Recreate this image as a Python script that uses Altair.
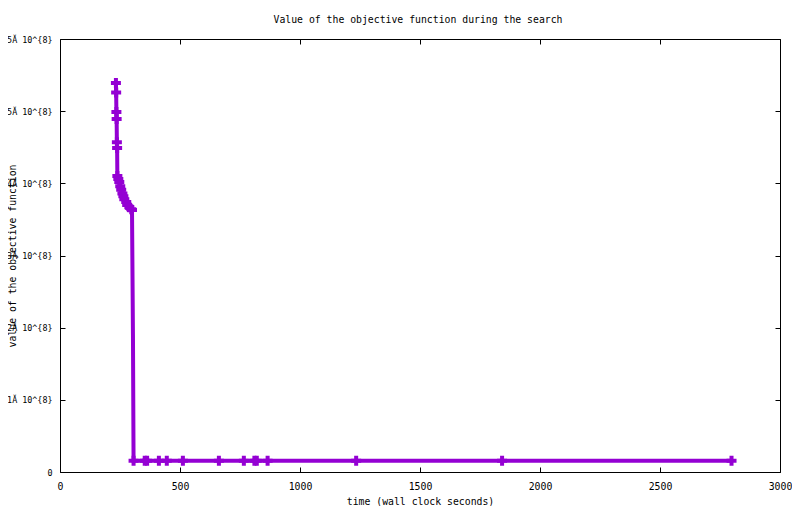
import json
import altair as alt
import pandas as pd

# time (wall clock seconds)
times = [233, 234, 235, 236, 237, 238,
         239, 243, 247, 251, 255, 260, 264, 268, 276, 280, 289, 297, 300,
         304,
         306.5, 353, 363, 412, 445, 512, 662, 766, 810, 820, 865, 1234, 1842, 2798]
# value of the objective function (units of 1e8)
values_e8 = [5.39, 5.26, 4.99, 4.89, 4.57, 4.49,
             4.10, 4.06, 4.02, 3.96, 3.91, 3.86, 3.82, 3.78, 3.74, 3.70, 3.67, 3.64, 3.63,
             1.90,
             0.155, 0.155, 0.155, 0.155, 0.155, 0.155, 0.155, 0.155, 0.155, 0.155, 0.155,
             0.155, 0.155, 0.155]
# whether the sample is drawn with a point marker
marked = [True] * 19 + [False] + [True] * 14

x_ticks = [0, 500, 1000, 1500, 2000, 2500, 3000]
y_ticks = [0, 1e8, 2e8, 3e8, 4e8, 5e8, 6e8]
y_tick_labels = ["0", "1Ă 10^{8}", "2Ă 10^{8}", "3Ă 10^{8}", "4Ă 10^{8}", "5Ă 10^{8}", "5Ă 10^{8}"]

df = pd.DataFrame({
    "t": times,
    "v": [v * 1e8 for v in values_e8],
    "marked": marked,
    "i": list(range(len(times))),
})

FONT = "DejaVu Sans Mono"
FS = 9.8
COLOR = "#9400D3"
W, H = 720, 433

xscale = alt.Scale(domain=[0, 3000], nice=False, zero=False)
yscale = alt.Scale(domain=[0, 6e8], nice=False, zero=False)

label_expr = json.dumps(y_tick_labels, ensure_ascii=False) + "[round(datum.value / 1e8)]"

line = alt.Chart(df).mark_line(color=COLOR, strokeWidth=4, strokeJoin="miter").encode(
    x=alt.X("t:Q", scale=xscale,
            axis=alt.Axis(values=x_ticks, format="d", title="time (wall clock seconds)",
                          offset=-5, tickSize=5, domain=False, grid=False, labelPadding=9,
                          labelFlush=False, labelOverlap=False,
                          titleY=34.5, titleBaseline="middle")),
    y=alt.Y("v:Q", scale=yscale,
            axis=alt.Axis(values=y_ticks, labelExpr=label_expr,
                          title="value of the objective function", offset=-5,
                          tickSize=5, domain=False, grid=False, labelPadding=8,
                          labelFontSize=8.4,
                          labelOverlap=False, labelBound=False,
                          titleX=-53, titleY=H / 2, titleBaseline="middle")),
    order="i:Q",
)

pts = alt.Chart(df).transform_filter("datum.marked").mark_point(
    shape="cross", filled=True, size=100, color=COLOR, opacity=1
).encode(
    x=alt.X("t:Q", scale=xscale,
            axis=alt.Axis(orient="top", values=x_ticks, labels=False, title=None,
                          offset=-5, tickSize=5, domain=False, grid=False)),
    y=alt.Y("v:Q", scale=yscale,
            axis=alt.Axis(orient="right", values=y_ticks, labels=False, title=None,
                          offset=-5, tickSize=5, domain=False, grid=False)),
)

chart = alt.layer(line, pts).resolve_axis(x="independent", y="independent").properties(
    width=W, height=H,
    autosize="none",
    padding={"left": 52, "top": 31, "right": 12, "bottom": 34},
    background="white",
    title=alt.Title("Value of the objective function during the search",
                    font=FONT, fontSize=FS, fontWeight="normal", color="black",
                    anchor="middle", frame="group", offset=10, dx=-2),
).configure_view(stroke="black", strokeWidth=1).configure_axis(
    tickColor="black", tickWidth=1, labelColor="black", titleColor="black",
    labelFont=FONT, titleFont=FONT, labelFontSize=FS, titleFontSize=FS,
    titleFontWeight="normal",
)

chart.save("out.html", embed_options={"renderer": "svg", "actions": False})
